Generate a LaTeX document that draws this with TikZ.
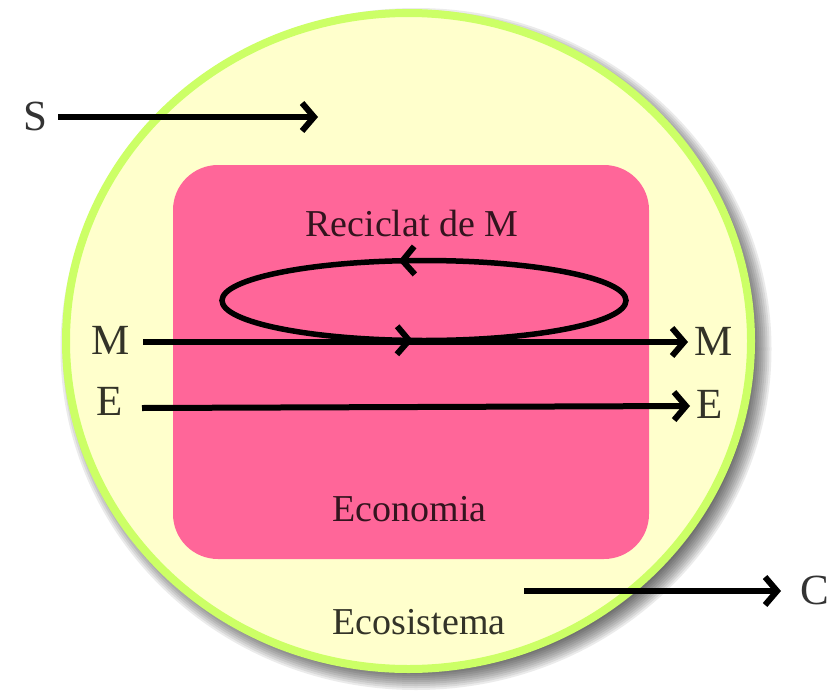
\documentclass[tikz,border=0pt]{standalone}
\usepackage{fontspec}
\setmainfont{Liberation Serif}
\usetikzlibrary{arrows.meta,decorations.markings}
\definecolor{ecofill}{HTML}{FFFFCC}
\definecolor{ecoedge}{HTML}{CCFF66}
\definecolor{econfill}{HTML}{FF6699}
\tikzset{
  barb/.tip={Straight Barb[length=12pt,width=28pt,line width=6pt]},
  arr/.style={line width=6pt,-barb},
  lbl/.style={inner sep=0pt,text=black,text opacity=0.8,font=\fontsize{43}{46}\selectfont},
  inlbl/.style={inner sep=0pt,text=black,text opacity=0.8,font=\fontsize{38}{41}\selectfont},
}
\begin{document}
\begin{tikzpicture}[x=1pt,y=-1pt]
\useasboundingbox (0,0) rectangle (832,696);
% soft shadow of the ecosystem
\foreach \k in {0,...,9}{
  \fill[black,opacity=0.08] (416,349) ellipse [x radius={355.5-2*\k}, y radius={341-2*\k}];
}
% ecosystem
\draw[ecoedge,line width=8pt,fill=ecofill] (408.5,341) ellipse [x radius=342.5, y radius=328];
% economy
\fill[econfill,rounded corners=45pt] (173,165) rectangle (649,559);
% labels
\node[inlbl] (rec) at (412,223) {Reciclat de M};
\node[inlbl] (econ) at (409.5,509.5) {Economia};
\node[inlbl] (eco) at (419,622) {Ecosistema};
\node[lbl] (S) at (35,116) {S};
\node[lbl] (Ml) at (111,340) {M};
\node[lbl] (El) at (110,401) {E};
\node[lbl] (Mr) at (714,341) {M};
\node[lbl] (Er) at (710,404) {E};
\node[lbl] (C) at (815,590) {C};
% arrow ends
\coordinate (s0) at (58,117);
\coordinate (s1) at (318,117);
\coordinate (m0) at (143,342);
\coordinate (m1) at (688,342);
\coordinate (e0) at (142,408);
\coordinate (e1) at (690,406);
\coordinate (c0) at (524,591);
\coordinate (c1) at (781,591);
\coordinate (loopc) at (424,300.5);
% recycling loop
\draw[line width=5.5pt,postaction={decorate},decoration={markings,
  mark=at position 0.263 with {\arrowreversed{barb}},
  mark=at position 0.72 with {\arrowreversed{barb}}}]
  (loopc) ellipse [x radius=202, y radius=40];
% flows
\draw[arr] (s0) -- (s1);
\draw[arr] (m0) -- (m1);
\draw[arr] (e0) -- (e1);
\draw[arr] (c0) -- (c1);
\end{tikzpicture}
\end{document}
